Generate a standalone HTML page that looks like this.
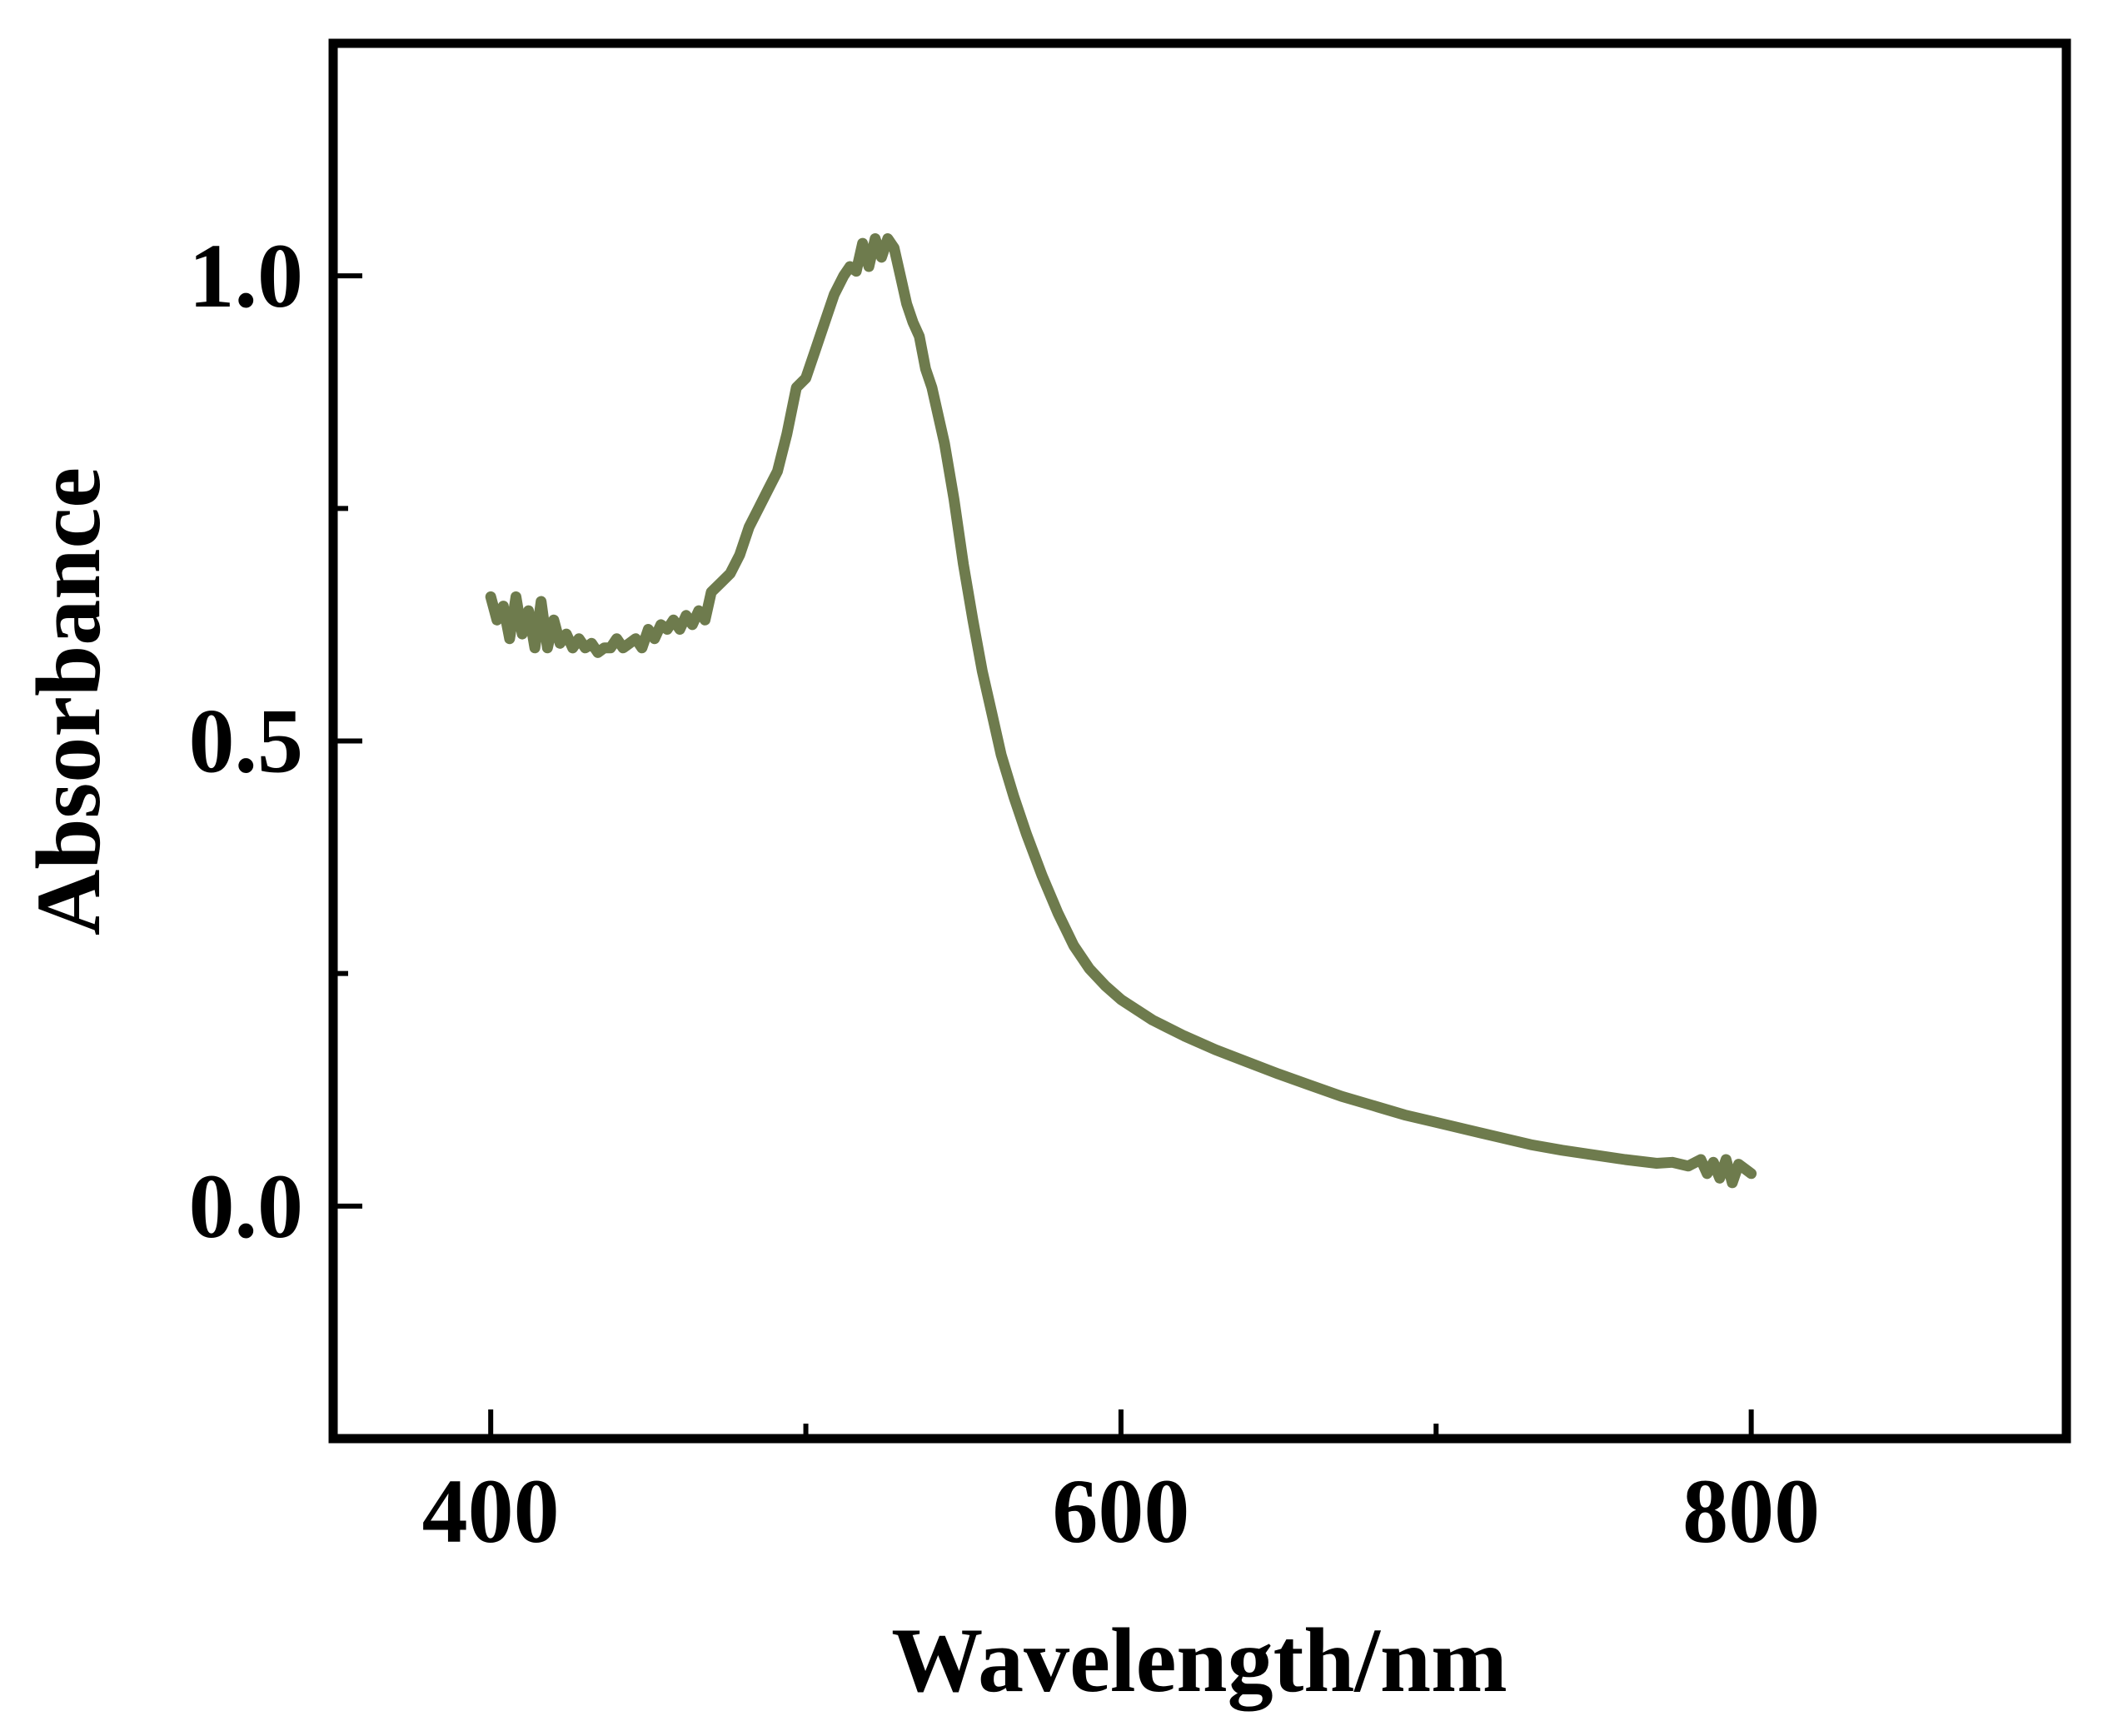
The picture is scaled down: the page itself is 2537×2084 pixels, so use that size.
<!DOCTYPE html>
<html><head><meta charset="utf-8"><style>
html,body{margin:0;padding:0;background:#fff;}
svg text{font-family:"Liberation Serif",serif;font-weight:bold;fill:#000;}
</style></head><body>
<svg id="chart" width="2537" height="2079" viewBox="0 0 2537 2079" xmlns="http://www.w3.org/2000/svg">
<rect width="2537" height="2079" fill="#fff"/>
<g id="marks"></g>
<g id="axes"></g>
</svg>
<script>
const wavelengths = [400,402,404,406,408,410,412,414,416,418,420,422,424,426,428,430,432,434,436,438,440,442,444,446,448,450,452,454,456,458,460,462,464,466,468,470,473,476,479,482,485,488,491,494,497,500,503,506,509,512,514,516,518,520,522,524,526,528,530,532,534,536,538,540,544,547,550,553,556,559,562,566,570,575,580,585,590,595,600,610,620,630,640,650,660,670,680,690,700,710,720,730,740,750,760,770,775,780,784,786,788,790,792,794,796,798,800];
const absorbance = [0.655,0.63,0.645,0.61,0.655,0.615,0.64,0.6,0.65,0.6,0.63,0.605,0.615,0.6,0.61,0.6,0.605,0.595,0.6,0.6,0.61,0.6,0.605,0.61,0.6,0.62,0.61,0.625,0.62,0.63,0.62,0.635,0.625,0.64,0.63,0.66,0.67,0.68,0.7,0.73,0.75,0.77,0.79,0.83,0.88,0.89,0.92,0.95,0.98,1.0,1.01,1.005,1.035,1.01,1.04,1.02,1.04,1.03,1.0,0.97,0.95,0.935,0.9,0.88,0.82,0.76,0.69,0.63,0.575,0.53,0.485,0.44,0.4,0.355,0.315,0.28,0.255,0.237,0.222,0.2,0.183,0.168,0.155,0.142,0.13,0.118,0.108,0.098,0.09,0.082,0.074,0.066,0.06,0.055,0.05,0.046,0.047,0.043,0.05,0.035,0.047,0.03,0.05,0.025,0.045,0.04,0.035];
const xTicks = [400,600,800];
const xMinor = [500,700];
const yTicks = [0.0,0.5,1.0];
const yMinor = [0.25,0.75];
const yTickLabels = ["0.0","0.5","1.0"];

const X0=400, X1=2481, Y0=52, Y1=1727;
const xMin=350, xMax=900, yMin=-0.25, yMax=1.25;
function sx(v){return X0+(v-xMin)/(xMax-xMin)*(X1-X0);}
function sy(v){return Y1-(v-yMin)/(yMax-yMin)*(Y1-Y0);}
const NS="http://www.w3.org/2000/svg";
const marks=document.getElementById('marks');
const axes=document.getElementById('axes');

let d='';
for(let i=0;i<wavelengths.length;i++){d+=(i?'L':'M')+sx(wavelengths[i]).toFixed(1)+' '+sy(absorbance[i]).toFixed(1);}
const path=document.createElementNS(NS,'path');
path.setAttribute('d',d);
path.setAttribute('fill','none');
path.setAttribute('stroke','#6e7b4d');
path.setAttribute('stroke-width','13');
path.setAttribute('stroke-linejoin','round');
path.setAttribute('stroke-linecap','round');


marks.appendChild(path);

const frame=document.createElementNS(NS,'rect');
frame.setAttribute('x',X0);frame.setAttribute('y',Y0);
frame.setAttribute('width',X1-X0);frame.setAttribute('height',Y1-Y0);
frame.setAttribute('fill','none');frame.setAttribute('stroke','#000');frame.setAttribute('stroke-width','11');


axes.appendChild(frame);

function line(x1,y1,x2,y2,name){
  const l=document.createElementNS(NS,'line');
  l.setAttribute('x1',x1);l.setAttribute('y1',y1);l.setAttribute('x2',x2);l.setAttribute('y2',y2);
  l.setAttribute('stroke','#000');l.setAttribute('stroke-width','6');
  
  
  axes.appendChild(l);
}
function text(x,y,s,anchor,name,rot){
  const t=document.createElementNS(NS,'text');
  t.setAttribute('x',x);t.setAttribute('y',y);t.setAttribute('font-size','110');
  t.setAttribute('text-anchor',anchor);
  if(rot)t.setAttribute('transform',rot);
  t.textContent=s;
  
  
  axes.appendChild(t);
}
xTicks.forEach(v=>{line(sx(v),Y1,sx(v),Y1-35,'x-tick');text(sx(v),1851,String(v),'middle','x-tick-label');});
xMinor.forEach(v=>{line(sx(v),Y1,sx(v),Y1-18,'x-minor-tick');});
yTicks.forEach((v,i)=>{line(X0,sy(v),X0+35,sy(v),'y-tick');text(364,sy(v)+37,yTickLabels[i],'end','y-tick-label');});
yMinor.forEach(v=>{line(X0,sy(v),X0+18,sy(v),'y-minor-tick');});
text(1440,2030,'Wavelength/nm','middle','x-axis-title');
text(119,842,'Absorbance','middle','y-axis-title','rotate(-90 119 842)');
</script>
</body></html>
